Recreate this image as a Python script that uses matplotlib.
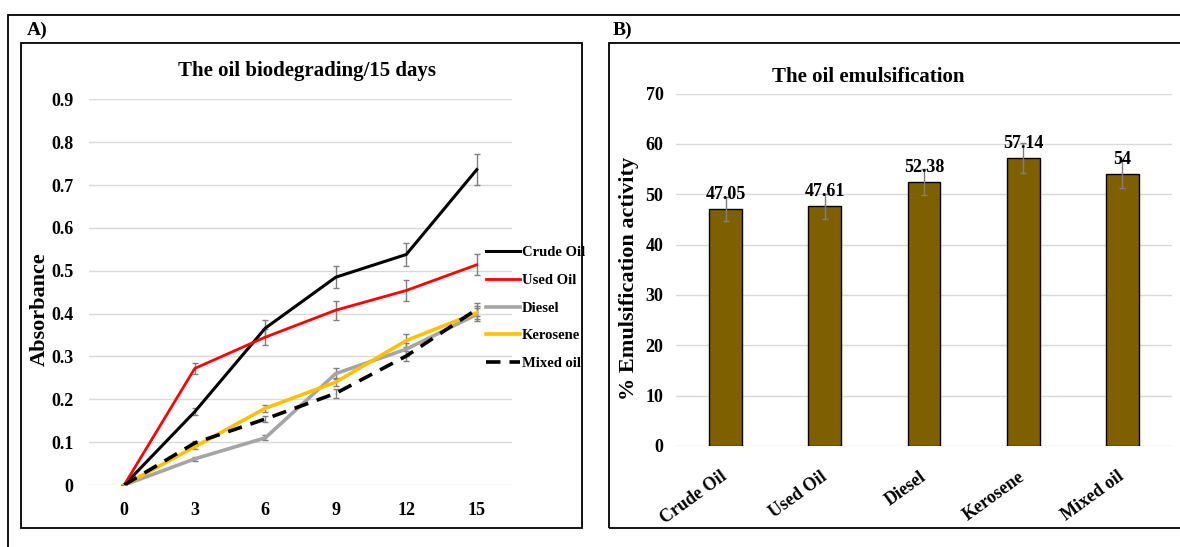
import matplotlib.pyplot as plt
from matplotlib.patches import Rectangle
import numpy as np

plt.rcParams['font.family'] = ['Liberation Serif', 'DejaVu Serif']
plt.rcParams['font.weight'] = 'bold'

# panel A data
days = ['0', '3', '6', '9', '12', '15']
crude_oil = [0, 0.171, 0.366, 0.485, 0.538, 0.736]
crude_err = [0, 0.008, 0.02, 0.025, 0.027, 0.036]
used_oil = [0, 0.272, 0.345, 0.408, 0.454, 0.514]
used_err = [0, 0.012, 0.018, 0.022, 0.024, 0.025]
diesel = [0, 0.061, 0.11, 0.26, 0.317, 0.398]
diesel_err = [0, 0.004, 0.006, 0.012, 0.015, 0.015]
kerosene = [0, 0.089, 0.179, 0.24, 0.337, 0.402]
kerosene_err = [0, 0.005, 0.008, 0.01, 0.015, 0.015]
mixed_oil = [0, 0.098, 0.154, 0.214, 0.301, 0.41]
mixed_err = [0, 0.005, 0.008, 0.01, 0.012, 0.015]

# panel B data
oils = ['Crude Oil', 'Used Oil', 'Diesel', 'Kerosene', 'Mixed oil']
emulsification = [47.05, 47.61, 52.38, 57.14, 54]
emul_err = [2.4, 2.5, 2.6, 3.0, 2.8]
emul_labels = ['47.05', '47.61', '52.38', '57.14', '54']

W, H = 1180, 547
fig = plt.figure(figsize=(W / 100, H / 100), dpi=100)


def fx(px):
    return px / W


def fy(py):
    return 1 - py / H


# frames
fig.patches.append(Rectangle((fx(8), fy(560)), fx(1190) - fx(8), fy(14.5) - fy(560),
                             transform=fig.transFigure, fill=False, lw=1.3, ec='black'))
fig.patches.append(Rectangle((fx(21), fy(528)), fx(582) - fx(21), fy(42.5) - fy(528),
                             transform=fig.transFigure, fill=False, lw=1.3, ec='black'))
fig.patches.append(Rectangle((fx(609), fy(528)), fx(1190) - fx(609), fy(42.5) - fy(528),
                             transform=fig.transFigure, fill=False, lw=1.3, ec='black'))
fig.text(fx(27), fy(30), 'A)', fontsize=14, fontweight='bold', va='center', ha='left')
fig.text(fx(613), fy(30), 'B)', fontsize=14, fontweight='bold', va='center', ha='left')

# ---- panel A
ax_a = fig.add_axes([fx(89), fy(485), fx(512) - fx(89), fy(99.4) - fy(485)])
x = np.arange(len(days))
series = [
    ('Crude Oil', crude_oil, crude_err, 'black', '-', 2.2),
    ('Used Oil', used_oil, used_err, '#FF0000', '-', 2.0),
    ('Diesel', diesel, diesel_err, '#A5A5A5', '-', 2.6),
    ('Kerosene', kerosene, kerosene_err, '#FFC000', '-', 2.6),
    ('Mixed oil', mixed_oil, mixed_err, 'black', (0, (4, 2.5)), 2.6),
]
for label, vals, err, color, ls, lw in series:
    ax_a.errorbar(x, vals, yerr=err, fmt='none', ecolor='#7F7F7F', elinewidth=1,
                  capsize=2.5, capthick=1, zorder=3)
for label, vals, err, color, ls, lw in series:
    ax_a.plot(x, vals, color=color, linestyle=ls, lw=lw, label=label, zorder=4)

ax_a.set_xlim(-0.5, 5.5)
ax_a.set_ylim(0, 0.9)
ax_a.set_xticks(x)
ax_a.set_xticklabels(days)
ax_a.set_yticks(np.arange(0, 0.91, 0.1))
ax_a.set_yticklabels(['0'] + [f'{v:.1f}' for v in np.arange(0.1, 0.91, 0.1)])
ax_a.grid(axis='y', color='#D9D9D9', lw=1)
ax_a.set_axisbelow(True)
for s in ax_a.spines.values():
    s.set_visible(False)
ax_a.tick_params(length=0, labelsize=13)
ax_a.tick_params(axis='y', pad=11)
ax_a.tick_params(axis='x', pad=12)
fig.text(fx(40), fy(309), 'Absorbance', fontsize=16, fontweight='bold',
         rotation=90, ha='center', va='center')
fig.text(fx(307), fy(71), 'The oil biodegrading/15 days', fontsize=15,
         fontweight='bold', ha='center', va='center')
ax_a.legend(loc='center left', bbox_to_anchor=(fx(479), fy(308)),
            bbox_transform=fig.transFigure, frameon=False,
            prop={'size': 10.5, 'weight': 'bold'}, handlelength=2.3,
            handletextpad=0.15, labelspacing=1.0, borderpad=0)

# ---- panel B
ax_b = fig.add_axes([fx(676), fy(446), fx(1172) - fx(676), fy(93.5) - fy(446)])
xb = np.arange(len(oils))
ax_b.bar(xb, emulsification, width=0.33, color='#7F6000', edgecolor='black',
         lw=1, zorder=3)
ax_b.errorbar(xb, emulsification, yerr=emul_err, fmt='none', ecolor='#7F7F7F',
              elinewidth=1, capsize=2.5, capthick=1, zorder=4)
for xi, v, t in zip(xb, emulsification, emul_labels):
    ax_b.text(xi, v + 1.3, t, ha='center', va='bottom', fontsize=13,
              fontweight='bold', zorder=5)
ax_b.set_xlim(-0.5, 4.5)
ax_b.set_ylim(0, 70)
ax_b.set_yticks(np.arange(0, 71, 10))
ax_b.set_xticks(xb)
ax_b.set_xticklabels(oils, rotation=36, ha='right', va='center',
                     rotation_mode='anchor')
ax_b.grid(axis='y', color='#D9D9D9', lw=1)
ax_b.set_axisbelow(True)
for s in ax_b.spines.values():
    s.set_visible(False)
ax_b.tick_params(length=0, labelsize=13)
ax_b.tick_params(axis='y', pad=9)
ax_b.tick_params(axis='x', pad=21)
fig.text(fx(629), fy(278), '% Emulsification activity', fontsize=16,
         fontweight='bold', rotation=90, ha='center', va='center')
fig.text(fx(868), fy(77), 'The oil emulsification', fontsize=15,
         fontweight='bold', ha='center', va='center')

fig.savefig('out.png', dpi=100)
